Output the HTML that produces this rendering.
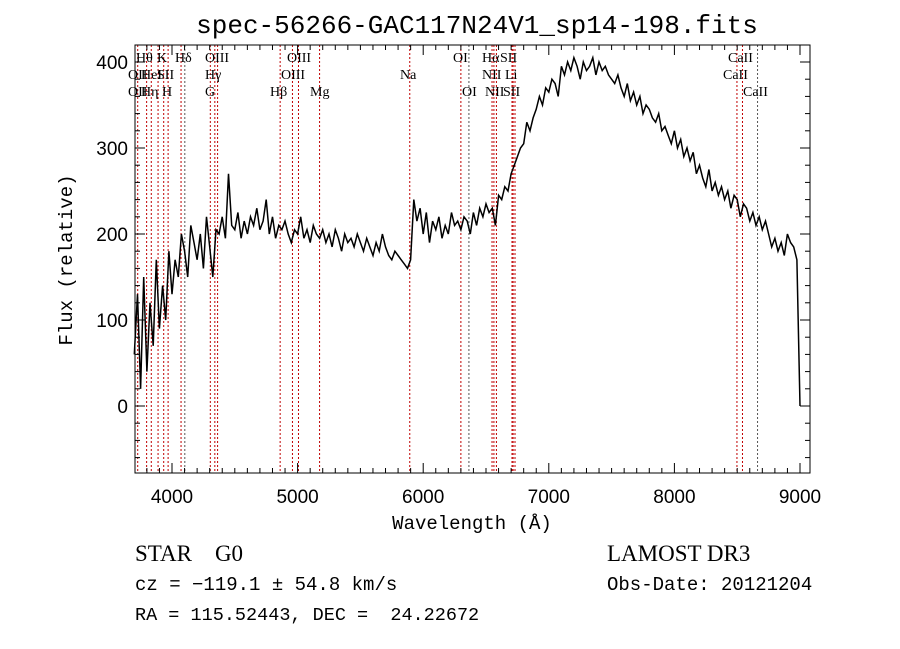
<!DOCTYPE html>
<html><head><meta charset="utf-8"><style>
body{margin:0;background:#fff;width:900px;height:649px;overflow:hidden}
svg{display:block}
text{font-family:"Liberation Mono",monospace;fill:#000}
.lab{font-family:"Liberation Serif",serif;font-size:14px}
.tk{font-family:"Liberation Sans",sans-serif;font-size:19px}
</style></head><body>
<svg id="chart" width="900" height="649">
<text x="477" y="33" text-anchor="middle" font-size="26">spec-56266-GAC117N24V1_sp14-198.fits</text>
<text x="472" y="529" text-anchor="middle" font-size="19">Wavelength (Å)</text>
<text transform="translate(72,260) rotate(-90)" text-anchor="middle" font-size="19">Flux (relative)</text>
<text x="135" y="561" font-size="23" style="font-family:'Liberation Serif',serif;white-space:pre">STAR    G0</text>
<text x="607" y="561" font-size="23" style="font-family:'Liberation Serif',serif">LAMOST DR3</text>
<text x="135" y="590" font-size="19">cz = −119.1 ± 54.8 km/s</text>
<text x="607" y="590" font-size="19">Obs-Date: 20121204</text>
<text x="135" y="620" font-size="18.5" style="white-space:pre">RA = 115.52443, DEC =  24.22672</text>
<g id="lines"></g><g id="labels"></g><g id="axes"></g>
<path id="spec" fill="none" stroke="#000" stroke-width="1.5"/>
</svg>
<script>
const flux = [60,130,20,150,40,120,70,170,90,140,100,180,
130,170,150,200,180,150,210,190,170,200,160,220,
185,150,205,200,220,195,270,210,205,225,195,215,
200,220,210,230,205,215,240,200,220,195,210,205,
215,200,190,205,200,220,195,205,190,210,200,195,
205,190,200,185,205,195,180,200,190,195,185,200,
190,180,195,185,175,190,180,200,185,175,170,180,
175,170,165,160,170,240,215,230,
200,225,190,215,205,220,195,210,200,225,210,215,
205,220,215,200,225,210,230,220,235,225,230,210,
245,240,255,250,270,280,290,300,305,330,320,335,
345,360,350,370,365,380,375,360,395,385,400,390,
405,395,380,400,390,395,405,385,400,390,395,385,
380,375,385,370,360,375,355,365,350,360,340,350,
345,335,330,340,320,325,315,305,320,300,310,290,
300,285,295,270,280,265,255,275,250,260,245,255,
240,250,230,245,240,220,235,230,215,225,210,220,
205,215,200,185,195,180,190,175,200,190,185,170,
0];
const waveStart = 3700, waveStep = 25;
const lineWaves = [3727,3798,3835,3889,3934,3969,4072,4102,4305,4341,4363,4861,4959,5007,5175,5893,6300,6364,6548,6563,6583,6707,6716,6731,8498,8542,8662];
const greyLines = [4102,6364,8662];
const xTicks = [4000,5000,6000,7000,8000,9000];
const yTicks = [0,100,200,300,400];
const labelTexts = [["Hθ",136,62],["K",157,62],["Hδ",175,62],["OIII",205,62],["OIII",287,62],["OI",453,62],["Hα",482,62],["SII",500,62],["CaII",728,62],
["OII",128,79],["HeI",141,79],["SII",157,79],["Hγ",205,79],["OIII",281,79],["Na",400,79],["NII",482,79],["Li",505,79],["CaII",723,79],
["OII",128,96],["Hη",141,96],["H",162,96],["G",205,96],["Hβ",270,96],["Mg",310,96],["OI",462,96],["NII",485,96],["SII",503,96],["CaII",743,96]];
const L=135,R=810,T=45,B=473;
const xs=w=>172+(w-4000)*0.1256;
const ys=f=>406-f*0.86;
const NS="http://www.w3.org/2000/svg";
function mk(tag,attrs,parent){const e=document.createElementNS(NS,tag);for(const k in attrs)e.setAttribute(k,attrs[k]);parent.appendChild(e);return e;}
const gl=document.getElementById('lines');
lineWaves.forEach(w=>{
 const e=mk('line',{x1:xs(w),x2:xs(w),y1:T,y2:B,stroke:greyLines.includes(w)?'#555':'#c00000','stroke-width':1,'stroke-dasharray':'2,2'},gl);
 
 
});
const glab=document.getElementById('labels');
labelTexts.forEach(t=>{
 const e=mk('text',{x:t[1],y:t[2],class:'lab'},glab);e.textContent=t[0];
 
 
});
const ga=document.getElementById('axes');
const fr=mk('rect',{x:L,y:T,width:R-L,height:B-T,fill:'none',stroke:'#000','stroke-width':1},ga);


for(let w=3800;w<=9000;w+=100){const big=w%1000===0;const x=xs(w);
 mk('line',{x1:x,x2:x,y1:B,y2:B-(big?10:5),stroke:'#000'},ga);
 mk('line',{x1:x,x2:x,y1:T,y2:T+(big?10:5),stroke:'#000'},ga);}
xTicks.forEach(w=>{const e=mk('text',{x:xs(w),y:503,'text-anchor':'middle',class:'tk'},ga);e.textContent=w;
 
 });
for(let f=-60;f<=420;f+=20){const big=f%100===0;const y=ys(f);if(y<T||y>B)continue;
 mk('line',{x1:L,x2:L+(big?10:5),y1:y,y2:y,stroke:'#000'},ga);
 mk('line',{x1:R,x2:R-(big?10:5),y1:y,y2:y,stroke:'#000'},ga);}
yTicks.forEach(f=>{const e=mk('text',{x:128,y:ys(f)+7,'text-anchor':'end',class:'tk'},ga);e.textContent=f;
 
 });
let d='';flux.forEach((f,i)=>{const w=waveStart+i*waveStep;d+=(i?'L':'M')+xs(w).toFixed(1)+','+ys(f).toFixed(1);});
document.getElementById('spec').setAttribute('d',d);
</script>
</body></html>
